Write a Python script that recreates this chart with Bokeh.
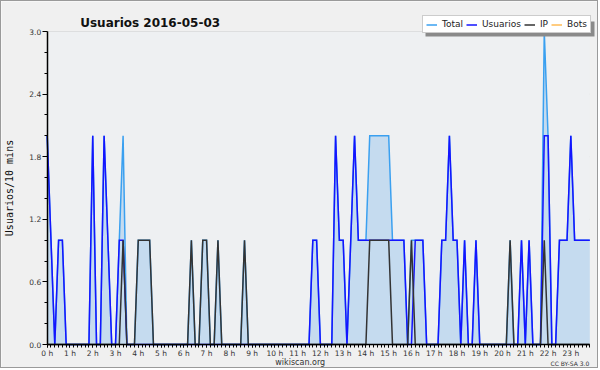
from bokeh.plotting import figure
from bokeh.models import (Range1d, FixedTicker, Legend, LegendItem, Label, LinearAxis,
                          ColumnDataSource, CustomJSTickFormatter, PrintfTickFormatter,
                          BoxAnnotation)
from bokeh.embed import file_html
from bokeh.resources import INLINE

# 10-minute slots over the day (0 .. 143)
slots = list(range(144))

total = [2, 1, 0, 1, 1, 0, 0, 0, 0, 0, 0, 0,
         2, 0, 0, 2, 1, 0, 0, 1, 2, 0, 0, 0,
         1, 1, 1, 1, 0, 0, 0, 0, 0, 0, 0, 0,
         0, 0, 1, 0, 0, 1, 1, 0, 0, 1, 0, 0,
         0, 0, 0, 0, 1, 0, 0, 0, 0, 0, 0, 0,
         0, 0, 0, 0, 0, 0, 0, 0, 0, 0, 1, 1,
         0, 0, 0, 0, 2, 1, 1, 0, 1, 2, 1, 1,
         1, 2, 2, 2, 2, 2, 2, 1, 1, 1, 1, 0,
         1, 1, 1, 1, 0, 0, 0, 0, 1, 1, 2, 1,
         1, 0, 1, 0, 0, 1, 0, 0, 0, 0, 0, 0,
         0, 0, 1, 0, 0, 1, 0, 1, 0, 0, 0, 3,
         2, 0, 0, 1, 1, 1, 2, 1, 1, 1, 1, 1]

usuarios = [2, 1, 0, 1, 1, 0, 0, 0, 0, 0, 0, 0,
            2, 0, 0, 2, 1, 0, 0, 1, 1, 0, 0, 0,
            0, 0, 0, 0, 0, 0, 0, 0, 0, 0, 0, 0,
            0, 0, 0, 0, 0, 0, 0, 0, 0, 0, 0, 0,
            0, 0, 0, 0, 0, 0, 0, 0, 0, 0, 0, 0,
            0, 0, 0, 0, 0, 0, 0, 0, 0, 0, 1, 1,
            0, 0, 0, 0, 2, 1, 1, 0, 1, 2, 1, 1,
            1, 1, 1, 1, 1, 1, 1, 1, 1, 1, 1, 0,
            0, 1, 1, 1, 0, 0, 0, 0, 1, 1, 2, 1,
            1, 0, 1, 0, 0, 1, 0, 0, 0, 0, 0, 0,
            0, 0, 0, 0, 0, 1, 0, 1, 0, 0, 0, 2,
            2, 0, 0, 1, 1, 1, 2, 1, 1, 1, 1, 1]

ip = [0, 0, 0, 0, 0, 0, 0, 0, 0, 0, 0, 0,
      0, 0, 0, 0, 0, 0, 0, 0, 1, 0, 0, 0,
      1, 1, 1, 1, 0, 0, 0, 0, 0, 0, 0, 0,
      0, 0, 1, 0, 0, 1, 1, 0, 0, 1, 0, 0,
      0, 0, 0, 0, 1, 0, 0, 0, 0, 0, 0, 0,
      0, 0, 0, 0, 0, 0, 0, 0, 0, 0, 0, 0,
      0, 0, 0, 0, 0, 0, 0, 0, 0, 0, 0, 0,
      0, 1, 1, 1, 1, 1, 1, 0, 0, 0, 0, 0,
      1, 0, 0, 0, 0, 0, 0, 0, 0, 0, 0, 0,
      0, 0, 0, 0, 0, 0, 0, 0, 0, 0, 0, 0,
      0, 0, 1, 0, 0, 0, 0, 0, 0, 0, 0, 1,
      0, 0, 0, 0, 0, 0, 0, 0, 0, 0, 0, 0]

bots = [0] * 144

hour_ticks = list(range(24))
y_ticks = [0.0, 0.6, 1.2, 1.8, 2.4, 3.0]
y_minor = [0.2, 0.4, 0.8, 1.0, 1.4, 1.6, 2.0, 2.2, 2.6, 2.8]

title_text = "Usuarios  2016-05-03"
y_label = "Usuarios/10 mins"
site_text = "wikiscan.org"
licence_text = "CC BY-SA 3.0"

x_hours = [s / 6 for s in slots]
x_last = x_hours[-1]
y_top = y_ticks[-1]
src = ColumnDataSource(dict(x=x_hours, total=total, usuarios=usuarios, ip=ip, bots=bots))
grid_src = ColumnDataSource(dict(y=y_ticks, x0=[0] * len(y_ticks), x1=[x_last] * len(y_ticks)))

# ---- layout in pixels (the frame covers the whole canvas; axes are drawn inside it)
W, H = 598, 368
px_left, px_right = 45.7, 588.3      # pixel x of first / last slot
px_top, px_bottom = 30.0, 343.0      # pixel y of y=3.0 / y=0
ppx = (px_right - px_left) / x_last
ppy = (px_bottom - px_top) / y_top
x_lo = -px_left / ppx
x_hi = x_last + (W - px_right) / ppx
y_lo = -(H - px_bottom) / ppy
y_hi = y_top + px_top / ppy

def to_x(px):
    return x_lo + px / ppx

def to_y(py):
    return y_hi - py / ppy

p = figure(width=W, height=H, output_backend="svg", toolbar_location=None,
           title=None, x_axis_location=None, y_axis_location=None,
           x_range=Range1d(x_lo, x_hi), y_range=Range1d(y_lo, y_hi),
           min_border_left=0, min_border_right=0, min_border_top=0, min_border_bottom=0)

p.background_fill_color = "#f0f0f0"
p.border_fill_color = "#f0f0f0"
p.outline_line_color = None
p.styles = {"border": "1px solid #9a9a9a"}
p.xgrid.visible = False
p.ygrid.visible = False

# plot area background + horizontal grid
p.add_layout(BoxAnnotation(left=0, right=x_last, bottom=0, top=y_top, fill_color="#eef0f2",
                           fill_alpha=1, line_color=None, level="underlay"))
p.segment(x0="x0", x1="x1", y0="y", y1="y", source=grid_src, line_color="#cdcdcd",
          line_width=1, level="underlay")

# axes drawn at x = 0 and y = 0
yaxis = LinearAxis(fixed_location=0, bounds=(0, y_top),
                   ticker=FixedTicker(ticks=y_ticks, minor_ticks=y_minor),
                   formatter=PrintfTickFormatter(format="%.1f"),
                   axis_label=y_label)
xaxis = LinearAxis(fixed_location=0, bounds=(0, x_last),
                   ticker=FixedTicker(ticks=hour_ticks, minor_ticks=x_hours),
                   formatter=CustomJSTickFormatter(code="return tick + ' h';"))
p.add_layout(yaxis, "left")
p.add_layout(xaxis, "below")

yaxis.axis_label_text_font = "DejaVu Sans Mono"
yaxis.axis_label_text_font_size = "10px"
yaxis.axis_label_text_font_style = "normal"
yaxis.axis_label_text_color = "#111111"
yaxis.axis_label_standoff = 12
yaxis.major_tick_in = 0
yaxis.major_tick_out = 5
yaxis.minor_tick_in = 0
yaxis.minor_tick_out = 3
yaxis.major_label_standoff = 1

xaxis.major_tick_in = 0
xaxis.major_tick_out = 3
xaxis.minor_tick_in = 0
xaxis.minor_tick_out = 3
xaxis.major_label_standoff = 1

for ax in (xaxis, yaxis):
    ax.axis_line_color = "black"
    ax.axis_line_width = 1.5
    ax.major_tick_line_color = "black"
    ax.minor_tick_line_color = "black"
    ax.major_label_text_font = "DejaVu Sans"
    ax.major_label_text_font_size = "7.5px"
    ax.major_label_text_color = "#333333"

# series
p.varea(x="x", y1=0, y2="total", source=src, fill_color="#c5dbef")
r_bots = p.line("x", "bots", source=src, line_color="#ff9900", line_width=1)
r_total = p.line("x", "total", source=src, line_color="#3aa0f0", line_width=1.5, line_join="miter")
r_user = p.line("x", "usuarios", source=src, line_color="#1414ff", line_width=1.5, line_join="miter")
r_ip = p.line("x", "ip", source=src, line_color="#333333", line_width=1.5, line_join="miter")

# legend (box: x 421..590, y 17..32 in pixels) with a drop shadow
leg_left, leg_bottom, leg_w, leg_h = 421, 32, 169, 15
p.add_layout(BoxAnnotation(left=to_x(leg_left + 3), right=to_x(leg_left + leg_w + 3),
                           top=to_y(leg_bottom - leg_h + 3), bottom=to_y(leg_bottom + 3),
                           fill_color="#8a8a8a", fill_alpha=1, line_color=None))
legend = Legend(items=[LegendItem(label="Total", renderers=[r_total]),
                       LegendItem(label="Usuarios", renderers=[r_user]),
                       LegendItem(label="IP", renderers=[r_ip]),
                       LegendItem(label="Bots", renderers=[r_bots])],
                location=(leg_left, H - leg_bottom), orientation="horizontal",
                border_line_color="#999999", border_line_width=1,
                background_fill_color="white", background_fill_alpha=1,
                label_text_font="DejaVu Sans", label_text_font_size="9px",
                label_text_color="#222222",
                glyph_width=11, glyph_height=9, label_height=9, label_width=0,
                spacing=3, padding=3, margin=0, label_standoff=5)
p.add_layout(legend)

p.add_layout(Label(x=0, y=y_top, x_offset=33, y_offset=9, text=title_text,
                   text_font="DejaVu Sans", text_font_style="bold",
                   text_font_size="12px", text_color="#111111",
                   text_baseline="alphabetic"))
p.add_layout(Label(x=0, y=0, x_offset=253, y_offset=-18, text=site_text,
                   text_font="DejaVu Sans", text_font_size="8px", text_color="#333333",
                   text_align="center", text_baseline="alphabetic"))
p.add_layout(Label(x=0, y=0, x_offset=542, y_offset=-19, text=licence_text,
                   text_font="DejaVu Sans", text_font_size="6px", text_color="#333333",
                   text_align="right", text_baseline="alphabetic"))

open("out.html", "w").write(file_html(p, INLINE))
